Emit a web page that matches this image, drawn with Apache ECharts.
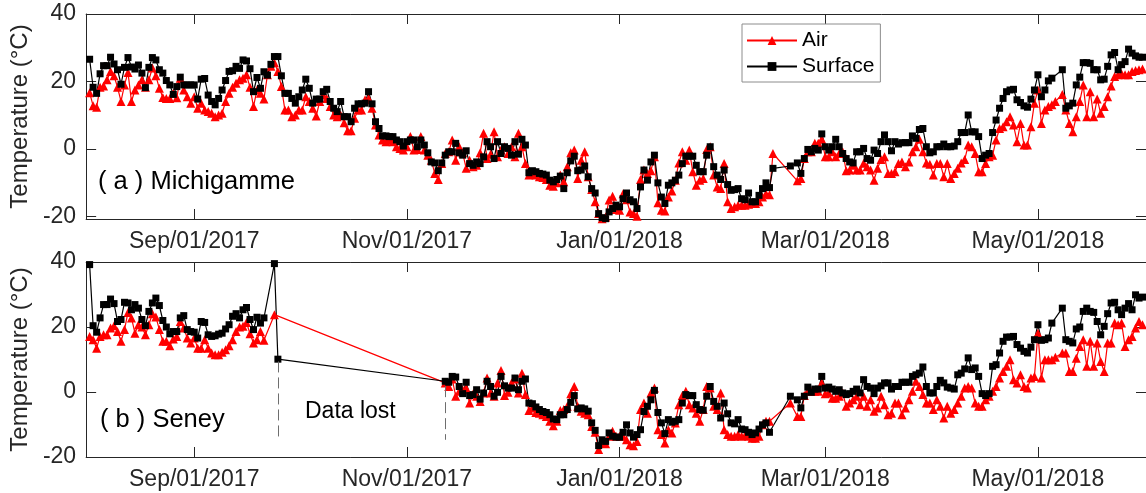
<!DOCTYPE html>
<html>
<head>
<meta charset="utf-8">
<script src="https://cdn.jsdelivr.net/npm/echarts@6/dist/echarts.min.js"></script>
<style>
  html, body { margin: 0; padding: 0; background: #ffffff; }
  #chart { width: 1146px; height: 493px; }
</style>
</head>
<body>
<div id="chart"></div>
<script>
// Daily mean temperatures (°C), one inner list per month.
// months[i] = [year, monthIndex, first day of the list]
const months = [
  [2017, 7, 2], [2017, 8, 1], [2017, 9, 1], [2017, 10, 1], [2017, 11, 1],
  [2018, 0, 1], [2018, 1, 1], [2018, 2, 1], [2018, 3, 1], [2018, 4, 1]
];

const michAir = [
  [16.7, 12.8, 12.4, 18.3, 18.7, 20.5, 23.0, 21.7, 18.3, 14.1, 19.0, 22.7, 14.1, 17.5, 19.0, 20.5, 18.3, 20.5, 24.0, 21.7, 18.0, 15.3, 15.0, 15.0, 16.5, 15.2, 21.0, 17.5, 15.5, 13.6],
  [15.5, 12.1, 13.6, 11.6, 11.1, 10.6, 9.6, 10.1, 10.6, 14.1, 16.5, 18.3, 19.5, 20.5, 21.0, 22.0, 18.3, 12.6, 17.5, 16.5, 14.8, 22.0, 24.5, 25.6, 23.0, 18.5, 11.6, 11.6, 9.6, 10.1],
  [11.6, 11.6, 15.5, 14.1, 12.1, 9.8, 14.1, 16.0, 15.0, 12.6, 10.1, 9.6, 10.1, 7.8, 5.4, 5.4, 9.1, 11.6, 11.6, 14.6, 15.0, 12.1, 7.1, 4.2, 2.7, 2.2, 2.7, 2.2, 0.7, 0.2, -0.3],
  [0.7, 3.7, -0.3, -0.1, 3.7, -0.3, -1.8, -3.3, -7.2, -9.0, -4.3, -1.3, -0.8, 2.7, -3.3, 0.7, -1.1, -5.7, -3.3, -5.2, -4.8, -1.1, 4.7, -2.8, -1.5, 5.1, -2.3, -0.3, 0.7, -1.3],
  [0.7, -2.3, 4.7, 0.7, -4.3, -7.7, -7.2, -7.7, -8.2, -8.4, -9.0, -10.7, -11.0, -10.0, -7.7, -9.7, -5.2, -1.1, -0.3, -8.7, -3.3, -0.8, -8.2, -12.0, -15.6, -19.1, -20.6, -20.1, -15.1, -14.0, -17.9],
  [-18.1, -13.2, -15.0, -18.6, -19.1, -19.9, -9.0, -6.2, -7.2, -6.4, -2.3, -15.9, -18.1, -18.3, -14.2, -12.4, -9.2, -4.1, -0.8, -3.3, -0.3, -6.7, -10.7, -9.2, -8.7, -0.1, 0.7, -7.7, -11.2, -11.7, -4.3],
  [-15.6, -17.6, -17.1, -16.6, -16.6, -16.6, -16.3, -16.1, -16.1, -15.6, -14.2, -13.2, -13.5, -1.3, null, null, null, null, null, null, -9.4, -8.7, -2.8, -0.8, -0.8, 1.7, 1.7, 2.9],
  [-2.3, -2.3, -0.8, -2.3, -1.3, -0.8, -6.4, -6.2, -4.8, -6.2, -6.2, -4.2, -5.2, -6.2, -9.2, -5.7, -3.1, -2.3, -7.2, -7.2, -6.7, -4.3, -3.8, -5.2, -3.8, -0.8, 0.7, 2.9, -0.8, -4.1, -4.5],
  [-7.7, -4.3, -4.3, -8.2, -4.3, -8.7, -7.2, -5.7, -4.1, -3.1, 1.2, 0.7, -1.3, -6.7, -6.7, -4.3, -2.3, -1.8, 2.7, 6.1, 6.6, 8.1, 9.6, 7.1, 2.2, 7.6, 1.2, 1.2, 6.6, 13.6],
  [17.5, 7.6, 11.6, 12.6, 13.1, 14.1, null, 16.2, 11.6, 7.6, 5.1, 9.6, 14.1, 19.0, 9.6, 17.0, 9.6, 14.8, 10.6, 12.6, 15.5, 18.7, 21.5, 22.0, 22.3, 22.0, 22.0, 23.0, 23.3, 23.5, 23.7]
];

const michSurface = [
  [26.6, 18.3, 16.5, 22.3, 24.7, 24.7, 27.2, 25.2, 23.5, 19.2, 24.2, 27.1, 24.3, 23.7, 24.9, 22.5, 18.2, 24.2, 27.1, 26.4, 23.5, 22.5, 20.3, 19.0, 16.2, 18.5, 21.3, 19.0, 19.0, 19.0],
  [19.0, 14.8, 20.7, 20.9, 16.0, 14.1, 13.1, 15.0, 17.5, 20.3, 23.0, 23.2, 24.5, 23.9, 26.4, 26.1, 23.8, 17.0, 21.2, 18.0, 22.9, 21.9, 25.1, 27.4, 27.4, 21.7, 16.5, 16.5, 15.0, 13.6],
  [15.5, 17.5, 20.7, 18.0, 13.6, 14.8, 14.8, 17.0, 17.7, 14.1, 12.1, 11.1, 14.1, 9.6, 9.6, 8.1, 12.1, 13.4, 13.4, 13.6, 17.0, 13.4, 8.1, 6.1, 3.9, 3.9, 3.7, 3.7, 2.7, 2.2, 0.9],
  [2.2, 2.7, 2.7, 0.7, 2.7, 1.2, -1.1, -3.8, -4.1, -6.4, -4.1, -1.8, -0.8, -0.8, 1.7, -1.1, -1.8, -0.5, -4.3, -4.8, -3.8, -4.3, -2.3, 2.2, 0.7, -2.8, 2.2, -1.3, 0.7, 0.2],
  [-1.8, 2.2, -1.5, 2.9, 1.2, -7.0, -6.4, -6.7, -7.2, -7.4, -7.7, -9.2, -9.7, -9.0, -8.0, -11.7, -7.0, -3.5, -2.1, -6.4, -6.2, -5.0, -8.2, -11.7, -13.0, -19.1, -20.3, -20.6, -18.6, -17.6, -16.6],
  [-17.1, -14.7, -13.0, -15.0, -15.6, -17.6, -11.2, -6.2, -9.2, -3.8, -1.8, -10.0, -14.2, -16.1, -10.7, -10.0, -9.2, -7.7, -4.3, -2.1, -2.1, -2.1, -4.8, -6.7, -6.7, -1.8, 0.7, -5.2, -7.7, -9.0, -6.2],
  [-10.5, -12.2, -12.0, -11.7, -14.7, -15.0, -13.0, -15.6, -15.6, -13.7, -11.7, -10.0, -11.4, -5.7, null, null, null, null, -5.0, null, -4.1, -7.2, -2.8, -0.1, -0.8, 0.2, -0.3, 4.5],
  [0.7, -0.3, 0.7, 2.9, 0.7, -1.3, -2.8, -3.8, -4.1, -0.8, -0.8, 0.2, -2.8, -3.3, -0.3, -1.3, 2.2, 4.2, 2.2, -0.5, 2.2, 1.5, 1.9, 1.9, 1.9, 3.9, 3.2, 5.8, 6.1, 0.7, -1.1],
  [-0.8, 0.7, 0.7, 1.5, 0.7, 0.7, 0.9, 2.2, 4.9, 4.9, 10.1, 5.1, 5.1, 3.7, -2.8, -1.8, -1.3, 4.9, 8.6, 12.1, 15.0, 17.0, 17.5, 17.7, 14.6, 13.8, 12.8, 12.4, 14.8, 17.5],
  [22.0, 15.5, 17.5, 20.2, 21.0, null, null, 23.5, 12.1, 12.8, 13.6, 19.0, 21.3, 25.6, 25.6, 25.4, 23.5, 23.5, 20.5, 20.7, 24.5, 27.9, 28.6, 23.5, 25.0, 25.9, 29.6, 28.4, 27.6, 27.2, 27.2]
];

const seneyAir = [
  [17.1, 16.1, 13.5, 17.1, 17.6, 17.6, 19.7, 20.4, 18.6, 15.6, 19.2, 24.5, 22.8, 18.1, 20.7, 20.0, 17.6, 20.7, 24.1, 23.1, 19.2, 15.6, 15.6, 14.2, 16.3, 17.1, 21.7, 19.7, 16.6, 15.1],
  [16.6, 13.5, 13.5, 16.1, 13.5, 12.0, 11.5, 11.5, 12.2, 13.0, 14.2, 16.1, 18.6, 20.0, 20.2, 21.4, 17.9, 15.1, 16.1, 18.6, 15.9, null, null, 23.8, null, null, null, null, null, null],
  [null, null, null, null, null, null, null, null, null, null, null, null, null, null, null, null, null, null, null, null, null, null, null, null, null, null, null, null, null, null, null],
  [null, null, null, null, null, null, null, null, null, null, null, 2.8, 1.7, 4.0, -1.3, 0.2, 0.7, 1.2, -3.4, -0.5, -1.3, -2.9, -0.3, 4.3, -0.3, -1.3, 2.8, 6.6, -1.1, -0.1],
  [2.8, 4.0, -0.3, 5.8, -0.8, -5.7, -4.9, -6.3, -6.5, -7.0, -7.5, -9.0, -10.4, -9.0, -5.7, -5.4, -4.4, -0.5, 1.7, -4.4, -5.9, -6.5, -7.0, -10.6, -12.4, -17.7, -15.7, -15.9, -13.6, -12.1, -13.6],
  [-13.6, -13.6, -14.7, -16.2, -16.5, -15.2, -5.4, -3.4, -6.5, -0.3, 1.2, -11.6, -13.1, -15.7, -11.6, -12.6, -9.5, -3.9, -1.1, 0.2, -3.9, -4.9, -6.5, -9.0, -5.4, 1.7, 1.2, -4.4, -5.4, -0.3, -11.6],
  [-13.1, -13.6, -13.6, -13.1, -13.6, -13.4, -13.6, -14.2, -14.2, -13.6, -10.1, -9.0, -9.0, null, null, null, null, null, -3.4, null, -7.5, -7.5, -1.1, 0.2, 0.2, 0.2, 0.2, 2.8],
  [-0.5, -0.3, -1.9, -1.9, -1.3, -0.3, -4.4, -3.4, -2.4, -1.3, -3.9, -1.3, -4.4, -2.4, -5.9, -4.9, -1.3, -3.9, -7.0, -6.5, -3.4, -3.4, -7.0, -4.9, -2.4, 0.2, 3.3, 1.7, -0.8, -3.4, -3.4],
  [-5.4, -2.4, -4.4, -8.0, -4.4, -6.5, -5.4, -3.4, -1.3, 1.2, 1.7, 1.2, -3.4, -4.4, -4.4, -2.4, -1.3, 0.2, 1.7, 4.3, 6.3, 7.9, 9.9, 3.8, 2.8, 5.3, 1.7, 1.2, 4.3, 4.8],
  [18.1, 4.3, 9.9, 9.9, 9.9, 10.7, null, 12.0, 12.0, 6.3, 6.3, 10.4, 14.0, 16.1, 7.9, 15.6, 7.9, 15.1, 9.4, 6.3, 15.1, 15.1, 21.2, 20.7, 21.2, 14.0, 16.1, 17.1, 19.7, 21.7, 20.7]
];

const seneySurface = [
  [39.2, 20.4, 18.4, 22.8, 26.9, 26.9, 28.6, 27.2, 21.7, 22.3, 27.6, 27.4, 25.3, 26.9, 25.8, 22.3, 20.4, 24.8, 27.4, 28.9, 26.6, 22.0, 20.0, 17.9, 18.6, 18.6, 22.8, 23.5, 19.2, 18.6],
  [18.4, 16.6, 21.7, 21.4, 17.6, 17.1, 17.3, 17.8, 18.1, 19.4, 20.7, 23.3, 24.1, 22.8, 25.3, 26.0, 22.3, 19.2, 23.0, 21.2, 22.8, null, null, 39.5, 10.1, null, null, null, null, null],
  [null, null, null, null, null, null, null, null, null, null, null, null, null, null, null, null, null, null, null, null, null, null, null, null, null, null, null, null, null, null, null],
  [null, null, null, null, null, null, null, null, null, null, null, 3.3, 3.0, 4.8, 4.6, 1.7, -0.5, 3.0, -1.1, -0.8, 0.7, -2.2, -0.3, 3.3, 1.7, -1.3, -0.1, 4.8, 1.9, 1.2],
  [1.2, 4.3, 0.7, 3.3, 4.0, -3.4, -3.6, -4.6, -5.4, -6.0, -6.3, -7.0, -8.3, -8.5, -7.0, -7.0, -5.4, -3.2, -1.1, -5.2, -4.9, -5.2, -5.9, -9.5, -11.8, -16.5, -14.7, -15.2, -12.6, -13.6, -13.9],
  [-13.9, -12.4, -10.1, -12.6, -13.9, -13.1, -11.6, -6.0, -4.4, -2.4, 0.5, -6.3, -9.5, -12.8, -8.5, -9.3, -9.0, -8.5, -3.4, -0.8, -1.1, -1.1, -3.9, -5.4, -5.6, -1.3, 1.7, -2.9, -4.4, -8.0, -3.4],
  [-6.7, -9.5, -9.8, -8.5, -11.4, -11.6, -12.4, -13.1, -12.6, -11.4, -10.1, -9.5, -12.4, null, null, null, null, null, -1.3, null, -2.4, -4.9, -1.3, 1.5, -0.1, 0.9, 0.9, 4.8],
  [1.2, 1.5, 0.9, 0.2, 0.7, -0.3, -0.8, -0.5, 0.2, 0.9, -0.3, 3.8, 1.7, 1.2, -0.5, 1.2, 1.9, 2.8, 2.8, 0.9, 1.7, 1.7, 3.0, 3.0, 3.0, 4.8, 5.3, 5.8, 7.7, 1.7, -0.3],
  [-0.3, 1.7, 3.6, 2.8, 1.5, 1.2, 0.9, 5.3, 5.8, 7.1, 10.5, 6.9, 7.4, 4.8, -0.5, -1.1, -0.5, 7.9, 8.4, 12.0, 15.6, 16.9, 16.9, 17.1, 14.6, 13.5, 12.5, 12.0, 13.8, 16.1],
  [20.7, 15.9, 16.1, 16.6, 21.2, null, null, 25.8, 16.1, 15.6, 15.1, 19.4, 20.0, 24.8, 25.8, 24.8, 24.5, 21.7, 17.6, 20.2, 24.1, 27.4, 27.6, 25.3, 23.8, 25.8, 27.2, 25.3, 29.9, 28.9, 29.2]
];

// Axis ranges and ticks (x values are UTC timestamps)
const xRange = [Date.UTC(2017, 7, 1), Date.UTC(2018, 5, 1)];
const xTicks = [Date.UTC(2017, 8, 1), Date.UTC(2017, 10, 1), Date.UTC(2018, 0, 1), Date.UTC(2018, 2, 1), Date.UTC(2018, 4, 1)];
const yTicks = [-20, 0, 20, 40];
const yRangeTop = [-20.7, 40];
const yRangeBottom = [-20, 40];

// Start/end of the Seney logger outage: [date, from value, to value]
const lostFrom = [Date.UTC(2017, 8, 25), 9.4, -13.7];
const lostTo = [Date.UTC(2017, 10, 12), 1.8, -14.7];

const MON = ['Jan', 'Feb', 'Mar', 'Apr', 'May', 'Jun', 'Jul', 'Aug', 'Sep', 'Oct', 'Nov', 'Dec'];
function fmtDate(v) {
  const d = new Date(v);
  return MON[d.getUTCMonth()] + '/' + String(d.getUTCDate()).padStart(2, '0') + '/' + d.getUTCFullYear();
}

function toPairs(monthly) {
  const out = [];
  monthly.forEach((vals, mi) => {
    const [y, m, first] = months[mi];
    vals.forEach((v, i) => {
      if (v !== null) out.push([Date.UTC(y, m, first + i), v]);
    });
  });
  return out;
}

const FONT = '"Liberation Sans", Arial, Helvetica, sans-serif';
const AXIS_COLOR = '#262626';

function xAxes(gridIndex) {
  const common = {
    type: 'value', gridIndex, min: xRange[0], max: xRange[1], scale: true,
    axisLine: { show: true, onZero: false, lineStyle: { color: AXIS_COLOR, width: 1 } },
    axisTick: { show: true, inside: true, length: 10, customValues: xTicks, lineStyle: { color: AXIS_COLOR, width: 1 } },
    splitLine: { show: false }, minorTick: { show: false }
  };
  return [
    Object.assign({}, common, {
      position: 'bottom',
      axisLabel: { show: true, customValues: xTicks, formatter: fmtDate, color: AXIS_COLOR, fontSize: 23, fontFamily: FONT, margin: 11, hideOverlap: false }
    }),
    Object.assign({}, common, { position: 'top', axisLabel: { show: false } })
  ];
}

function yAxes(gridIndex, range) {
  const common = {
    type: 'value', gridIndex, min: range[0], max: range[1],
    axisLine: { show: true, onZero: false, lineStyle: { color: AXIS_COLOR, width: 1 } },
    axisTick: { show: true, inside: true, length: 10, customValues: yTicks, lineStyle: { color: AXIS_COLOR, width: 1 } },
    splitLine: { show: false }
  };
  return [
    Object.assign({}, common, {
      position: 'left',
      axisLabel: { show: true, customValues: yTicks, color: AXIS_COLOR, fontSize: 23, fontFamily: FONT, margin: 10 },
      name: 'Temperature (°C)', nameLocation: 'middle', nameGap: 50,
      nameTextStyle: { fontSize: 24, color: AXIS_COLOR, fontFamily: FONT }
    }),
    Object.assign({}, common, { position: 'right', axisLabel: { show: false } })
  ];
}

function lineSeries(name, data, xi, yi, color, symbol, size) {
  return {
    name, type: 'line', data: toPairs(data), xAxisIndex: xi, yAxisIndex: yi,
    symbol, symbolSize: size, showSymbol: true, showAllSymbol: true,
    connectNulls: true, animation: false, clip: true,
    lineStyle: { color, width: 1.2 },
    itemStyle: { color, borderWidth: 0 },
    emphasis: { disabled: true }
  };
}

const seneySurfaceSeries = lineSeries('Surface', seneySurface, 2, 2, '#000000', 'rect', 7);
seneySurfaceSeries.markLine = {
  silent: true, symbol: ['none', 'none'], animation: false,
  label: { show: false },
  lineStyle: { color: '#6e6e6e', width: 1, type: [11, 5] },
  data: [
    [{ coord: [lostFrom[0], lostFrom[1]] }, { coord: [lostFrom[0], lostFrom[2]] }],
    [{ coord: [lostTo[0], lostTo[1]] }, { coord: [lostTo[0], lostTo[2]] }]
  ]
};

const option = {
  backgroundColor: '#ffffff',
  animation: false,
  textStyle: { fontFamily: FONT },
  grid: [
    { left: 84, top: 14, width: 1065, height: 205, containLabel: false },
    { left: 84, top: 262, width: 1065, height: 195, containLabel: false }
  ],
  xAxis: [...xAxes(0), ...xAxes(1)],
  yAxis: [...yAxes(0, yRangeTop), ...yAxes(1, yRangeBottom)],
  legend: {
    data: ['Air', 'Surface'], orient: 'vertical', left: 742, top: 24,
    padding: [6, 6, 5, 4], itemGap: 5, itemWidth: 50, itemHeight: 11,
    backgroundColor: '#ffffff', borderColor: '#8c8c8c', borderWidth: 1, borderRadius: 0,
    textStyle: { fontSize: 21, color: '#000000', fontFamily: FONT, lineHeight: 20 },
    selectedMode: false
  },
  graphic: [
    { type: 'text', x: 98, y: 182, style: { text: '( a ) Michigamme', font: '25.5px ' + FONT, fill: '#000000', verticalAlign: 'middle' } },
    { type: 'text', x: 100, y: 420, style: { text: '( b ) Seney', font: '25.5px ' + FONT, fill: '#000000', verticalAlign: 'middle' } },
    { type: 'text', x: 305, y: 412, style: { text: 'Data lost', font: '23px ' + FONT, fill: '#000000', verticalAlign: 'middle' } }
  ],
  series: [
    lineSeries('Air', michAir, 0, 0, '#ff0000', 'triangle', 9),
    lineSeries('Surface', michSurface, 0, 0, '#000000', 'rect', 7),
    lineSeries('Air', seneyAir, 2, 2, '#ff0000', 'triangle', 9),
    seneySurfaceSeries
  ]
};

const chart = echarts.init(document.getElementById('chart'), null, { renderer: 'canvas' });
chart.setOption(option);
</script>
</body>
</html>
